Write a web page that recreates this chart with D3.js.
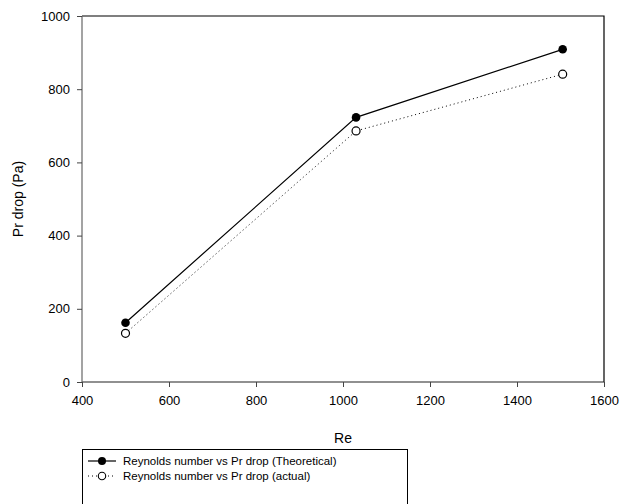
<!DOCTYPE html>
<html>
<head>
<meta charset="utf-8">
<script src="https://cdn.jsdelivr.net/npm/d3@7"></script>
<style>
  body { margin: 0; background: #fff; }
  text { font-family: "Liberation Sans", Arial, sans-serif; }
</style>
</head>
<body>
<div id="chart"></div>
<script>
var reynolds = [500, 1030, 1505]
var dropTheoretical = [162, 723, 909]
var dropActual = [133, 686, 841]
var xTicks = [400, 600, 800, 1000, 1200, 1400, 1600]
var yTicks = [0, 200, 400, 600, 800, 1000]
var seriesNames = ["Reynolds number vs Pr drop (Theoretical)", "Reynolds number vs Pr drop (actual)"]

var width = 621, height = 504
var margin = { top: 16, right: 17, bottom: 122, left: 82 }

var svg = d3.select("#chart").append("svg")
    .attr("width", width)
    .attr("height", height)

var x = d3.scaleLinear().domain([400, 1600]).range([margin.left, width - margin.right])
var y = d3.scaleLinear().domain([0, 1000]).range([height - margin.bottom, margin.top])

// frame top + right
svg.append("path")
    .attr("d", "M" + x(400) + "," + y(1000) + "H" + x(1600) + "V" + y(0))
    .attr("fill", "none").attr("stroke", "#000").attr("stroke-width", 1.2)

var xAxis = svg.append("g")
    .attr("transform", "translate(0," + y(0) + ")")
    .call(d3.axisBottom(x).tickValues(xTicks).tickFormat(d3.format("d")).tickSize(5).tickPadding(9))
var yAxis = svg.append("g")
    .attr("transform", "translate(" + x(400) + ",0)")
    .call(d3.axisLeft(y).tickValues(yTicks).tickFormat(d3.format("d")).tickSize(5).tickPadding(7))

xAxis.select(".domain").attr("stroke", "#222").attr("stroke-width", 1.2).attr("d", "M" + x(400) + ",0H" + x(1600))
yAxis.select(".domain").attr("stroke", "#666").attr("stroke-width", 1.2).attr("d", "M0," + y(0) + "V" + y(1000))
svg.selectAll(".tick line").attr("stroke", "#444")
svg.selectAll(".tick text").attr("font-size", 13).attr("fill", "#000")
    .attr("font-family", "Liberation Sans, Arial, sans-serif")

svg.append("text").attr("x", x(1000)).attr("y", 443)
    .attr("text-anchor", "middle").attr("font-size", 14).text("Re")
svg.append("text")
    .attr("transform", "translate(23," + y(500) + ") rotate(-90)")
    .attr("text-anchor", "middle").attr("font-size", 14).text("Pr drop (Pa)")

var theo = reynolds.map(function(d, i){ return [d, dropTheoretical[i]] })
var act = reynolds.map(function(d, i){ return [d, dropActual[i]] })
var line = d3.line().x(function(d){ return x(d[0]) }).y(function(d){ return y(d[1]) })

svg.append("path").attr("d", line(act))
    .attr("fill", "none").attr("stroke", "#000").attr("stroke-width", 1)
    .attr("stroke-dasharray", "1,3")
svg.append("path").attr("d", line(theo))
    .attr("fill", "none").attr("stroke", "#000").attr("stroke-width", 1.2)

svg.selectAll(".act").data(act).enter().append("circle")
    .attr("cx", function(d){ return x(d[0]) })
    .attr("cy", function(d){ return y(d[1]) })
    .attr("r", 4).attr("fill", "#fff").attr("stroke", "#000").attr("stroke-width", 1.2)
svg.selectAll(".theo").data(theo).enter().append("circle")
    .attr("cx", function(d){ return x(d[0]) })
    .attr("cy", function(d){ return y(d[1]) })
    .attr("r", 4.3).attr("fill", "#000")

// legend
var lg = svg.append("g")
lg.append("rect").attr("x", 82.5).attr("y", 449.5).attr("width", 325).attr("height", 60)
    .attr("fill", "#fff").attr("stroke", "#000").attr("stroke-width", 1)
var rows = [461, 476]
seriesNames.forEach(function(name, i){
    var ry = rows[i]
    lg.append("line").attr("x1", 88).attr("x2", 116).attr("y1", ry).attr("y2", ry)
        .attr("stroke", "#000").attr("stroke-width", i == 0 ? 1.2 : 1)
        .attr("stroke-dasharray", i == 0 ? null : "1,3")
    lg.append("circle").attr("cx", 102).attr("cy", ry)
        .attr("r", i == 0 ? 4 : 3.7)
        .attr("fill", i == 0 ? "#000" : "#fff")
        .attr("stroke", "#000").attr("stroke-width", i == 0 ? 0 : 1.1)
    lg.append("text").attr("x", 123).attr("y", ry + 4)
        .attr("font-size", 11.5).text(name)
})
</script>
</body>
</html>
